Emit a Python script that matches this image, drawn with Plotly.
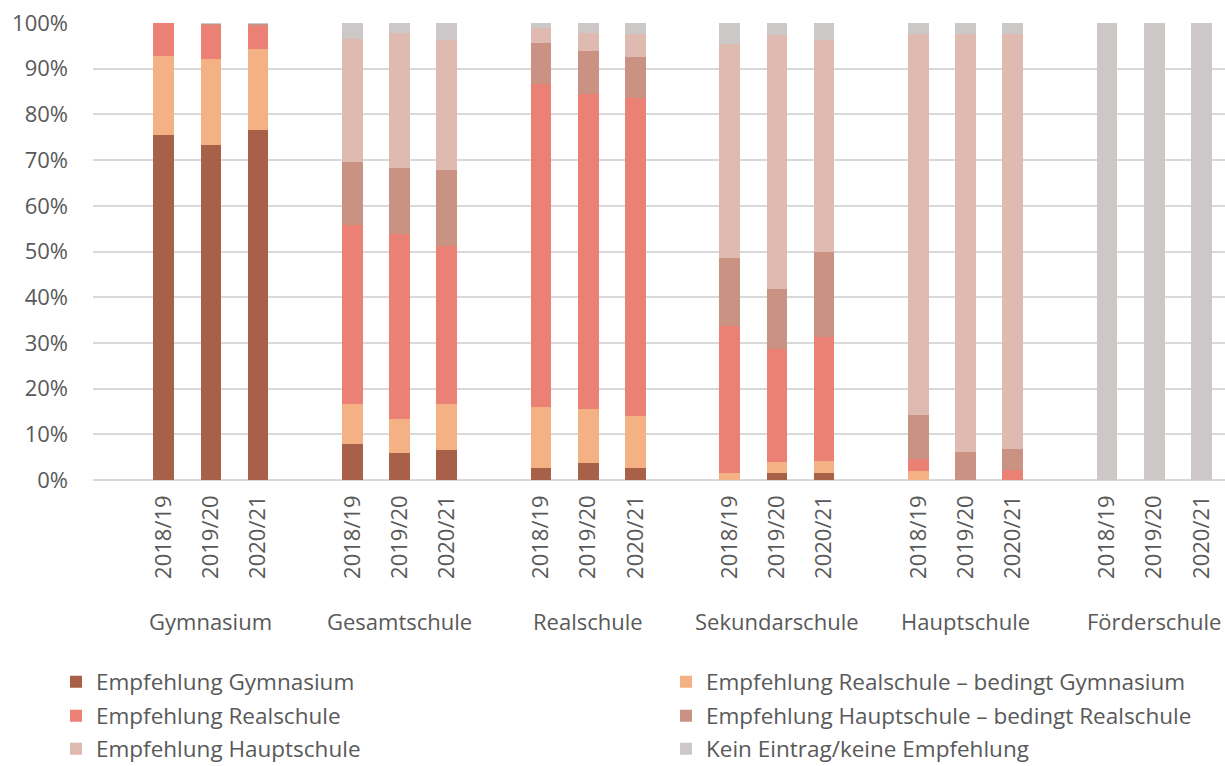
import plotly.graph_objects as go

schools = ["Gymnasium", "Gesamtschule", "Realschule", "Sekundarschule", "Hauptschule", "Förderschule"]
years = ["2018/19", "2019/20", "2020/21"]

series_names = [
    "Empfehlung Gymnasium",
    "Empfehlung Realschule – bedingt Gymnasium",
    "Empfehlung Realschule",
    "Empfehlung Hauptschule – bedingt Realschule",
    "Empfehlung Hauptschule",
    "Kein Eintrag/keine Empfehlung",
]

# values in percent, order: school x year
empf_gymnasium = [75.5, 73.3, 76.6, 7.8, 6.0, 6.6, 2.7, 3.8, 2.6, 0.0, 1.6, 1.5, 0.0, 0.0, 0.0, 0, 0, 0]
empf_real_bed_gym = [17.3, 18.8, 17.7, 8.8, 7.3, 10.0, 13.3, 11.7, 11.5, 1.5, 2.3, 2.6, 2.0, 0.0, 0.0, 0, 0, 0]
empf_realschule = [7.2, 7.6, 5.0, 39.2, 40.5, 34.7, 70.6, 69.0, 69.5, 32.2, 24.8, 27.3, 2.6, 0.0, 2.2, 0, 0, 0]
empf_haupt_bed_real = [0.0, 0.2, 0.6, 13.8, 14.5, 16.5, 9.1, 9.4, 8.9, 14.9, 13.1, 18.5, 9.6, 6.2, 4.6, 0, 0, 0]
empf_hauptschule = [0.0, 0.0, 0.0, 26.9, 29.5, 28.4, 3.2, 4.0, 5.2, 46.9, 55.6, 46.4, 83.4, 91.4, 90.8, 0, 0, 0]
kein_eintrag = [0.0, 0.1, 0.1, 3.5, 2.2, 3.8, 1.1, 2.1, 2.3, 4.5, 2.6, 3.7, 2.4, 2.4, 2.4, 100, 100, 100]

colors = ["#A86048", "#F4B183", "#EB8074", "#C99282", "#DEBAB1", "#CDC8C8"]

all_series = [empf_gymnasium, empf_real_bed_gym, empf_realschule,
              empf_haupt_bed_real, empf_hauptschule, kein_eintrag]

# x positions: each school occupies 4 slots (1 empty + 3 years)
xpos = []
xlabels = []
for g, s in enumerate(schools):
    for j, y in enumerate(years):
        xpos.append(g * 4 + j + 1)
        xlabels.append(y)

FONT = "Open Sans"
TXT = "#595959"
FS = 22
W, H = 1225, 766
ML, MT, MB = 93, 23, 286
plot_w = W - ML
plot_h = H - MT - MB

# one legend per entry, laid out in 2 columns x 3 rows
legend_ids = ["legend", "legend2", "legend3", "legend4", "legend5", "legend6"]
col_x_px = [56, 666]
row_y_px = [682, 716, 749]

fig = go.Figure()
for name, vals, col, lg in zip(series_names, all_series, colors, legend_ids):
    fig.add_trace(go.Bar(
        x=xpos, y=[v / 100 for v in vals], name=name,
        marker=dict(color=col, line=dict(width=0)),
        width=0.44, legend=lg,
    ))

legends = {}
for i, lg in enumerate(legend_ids):
    r, c = divmod(i, 2)
    legends[lg] = dict(
        orientation="h", traceorder="normal",
        x=(col_x_px[c] - ML) / plot_w, xanchor="left",
        y=(MT + plot_h - row_y_px[r]) / plot_h, yanchor="middle",
        font=dict(family=FONT, size=22.5, color=TXT),
        bgcolor="rgba(0,0,0,0)",
    )

fig.update_layout(
    width=W, height=H,
    barmode="stack",
    plot_bgcolor="white", paper_bgcolor="white",
    margin=dict(l=ML, r=0, t=MT, b=MB, autoexpand=False),
    font=dict(family=FONT, size=FS, color=TXT),
    xaxis=dict(
        range=[-0.5, len(schools) * 4 - 0.5],
        tickmode="array", tickvals=xpos, ticktext=xlabels,
        tickangle=-90, showgrid=False, zeroline=False,
        ticks="", ticklabelstandoff=10,
        tickfont=dict(family=FONT, size=FS, color=TXT),
    ),
    yaxis=dict(
        range=[0, 1], dtick=0.1, tickformat=".0%",
        showgrid=True, gridcolor="#D9D9D9", gridwidth=1.5,
        zeroline=True, zerolinecolor="#D9D9D9", zerolinewidth=1.5,
        ticks="", ticklabelstandoff=24, ticklabeloverflow="allow",
        tickfont=dict(family=FONT, size=FS, color=TXT),
    ),
    showlegend=True,
    **legends,
)

for g, s in enumerate(schools):
    fig.add_annotation(
        x=g * 4 + 2, y=0, xref="x", yref="paper",
        text=s, showarrow=False, yanchor="middle", yshift=-141,
        font=dict(family=FONT, size=FS, color=TXT),
    )

fig.write_html(
    "out.html",
    config={"displayModeBar": False},
    post_script="document.body.style.margin='0';document.body.style.overflow='hidden';"
                "document.documentElement.style.overflow='hidden';",
)
